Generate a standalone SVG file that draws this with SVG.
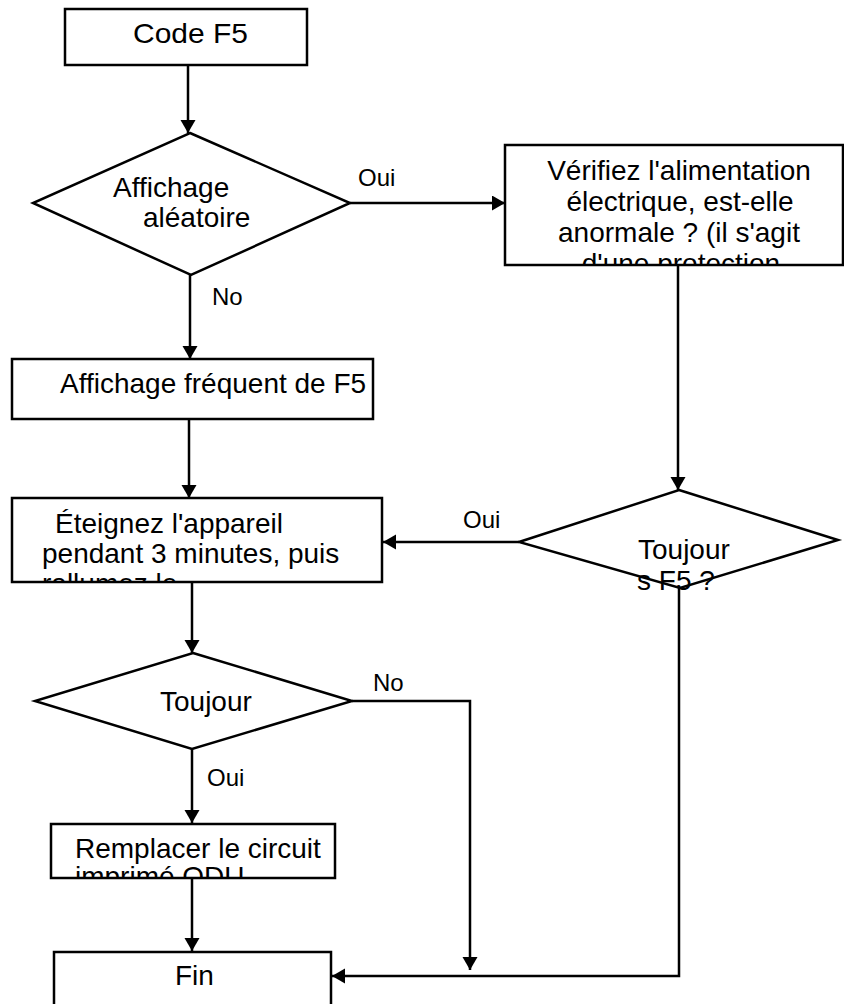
<svg xmlns="http://www.w3.org/2000/svg" width="844" height="1004" viewBox="0 0 844 1004">
<style>
.box{fill:#fff;stroke:#000;stroke-width:2.5}
.t{font-family:"Liberation Sans",Arial,sans-serif;font-size:28px;fill:#000}
.l{font-family:"Liberation Sans",Arial,sans-serif;font-size:24px;fill:#000}
.c{fill:none;stroke:#000;stroke-width:2.5}
</style>
<defs>
<marker id="ah" markerUnits="userSpaceOnUse" markerWidth="14" markerHeight="16" refX="13" refY="7.5" orient="auto">
<path d="M0,0 L13,7.5 L0,15 z" fill="#000"/>
</marker>
<clipPath id="clipR"><rect x="505" y="145" width="338" height="119"/></clipPath>
<clipPath id="clipE"><rect x="12" y="498" width="370" height="83"/></clipPath>
<clipPath id="clipP"><rect x="51" y="824" width="284" height="53"/></clipPath>
</defs>
<rect width="844" height="1004" fill="#fff"/>
<g id="connectors">
<line class="c" x1="188" y1="65" x2="188" y2="133" marker-end="url(#ah)"/>
<line class="c" x1="350" y1="203" x2="505" y2="203" marker-end="url(#ah)"/>
<line class="c" x1="190" y1="275" x2="190" y2="359" marker-end="url(#ah)"/>
<line class="c" x1="189" y1="419" x2="189" y2="498" marker-end="url(#ah)"/>
<line class="c" x1="678" y1="265" x2="678" y2="490" marker-end="url(#ah)"/>
<line class="c" x1="519" y1="542" x2="383" y2="542" marker-end="url(#ah)"/>
<line class="c" x1="192" y1="582" x2="192" y2="653" marker-end="url(#ah)"/>
<line class="c" x1="192" y1="749" x2="192" y2="823" marker-end="url(#ah)"/>
<line class="c" x1="192" y1="878" x2="192" y2="951" marker-end="url(#ah)"/>
<polyline class="c" points="352,701 470,701 470,970" marker-end="url(#ah)"/>
<polyline class="c" points="679,588 679,976 332,976" marker-end="url(#ah)"/>
<text class="l" x="358" y="186">Oui</text>
<text class="l" x="212" y="305">No</text>
<text class="l" x="463" y="528">Oui</text>
<text class="l" x="373" y="691">No</text>
<text class="l" x="207" y="786">Oui</text>
</g>
<g id="n1">
<rect class="box" x="65" y="9" width="242" height="56"/>
<text class="t" x="133" y="43" textLength="115" lengthAdjust="spacingAndGlyphs">Code F5</text>
</g>
<g id="n2">
<polygon class="box" points="190,133 350,203 191,275 33,203"/>
<text class="t" x="113" y="197">Affichage</text>
<text class="t" x="143" y="227">aléatoire</text>
</g>
<g id="n3">
<rect class="box" x="505" y="145" width="338" height="120"/>
<g clip-path="url(#clipR)" text-anchor="middle">
<text class="t" x="679" y="180">Vérifiez l'alimentation</text>
<text class="t" x="680" y="211">électrique, est-elle</text>
<text class="t" x="679" y="242">anormale ? (il s'agit</text>
<text class="t" x="681" y="273">d'une protection</text>
</g>
</g>
<g id="n4">
<rect class="box" x="12" y="359" width="361" height="60"/>
<text class="t" x="60" y="393">Affichage fréquent de F5</text>
</g>
<g id="n5">
<polygon class="box" points="679,490 838,540 680,588 519,542"/>
<text class="t" x="638" y="559">Toujour</text>
<text class="t" x="637" y="590">s F5 ?</text>
</g>
<g id="n6">
<rect class="box" x="12" y="498" width="370" height="84"/>
<g clip-path="url(#clipE)">
<text class="t" x="55" y="533">Éteignez l'appareil</text>
<text class="t" x="42" y="563">pendant 3 minutes, puis</text>
<text class="t" x="42" y="593">rallumez le</text>
</g>
</g>
<g id="n7">
<polygon class="box" points="193,653 352,701 192,749 35,701"/>
<text class="t" x="160" y="711">Toujour</text>
</g>
<g id="n8">
<rect class="box" x="51" y="824" width="284" height="54"/>
<g clip-path="url(#clipP)">
<text class="t" x="75" y="858">Remplacer le circuit</text>
<text class="t" x="75" y="886">imprimé ODU</text>
</g>
</g>
<g id="n9">
<rect class="box" x="54" y="952" width="277" height="60"/>
<text class="t" x="175" y="985">Fin</text>
</g>
</svg>
